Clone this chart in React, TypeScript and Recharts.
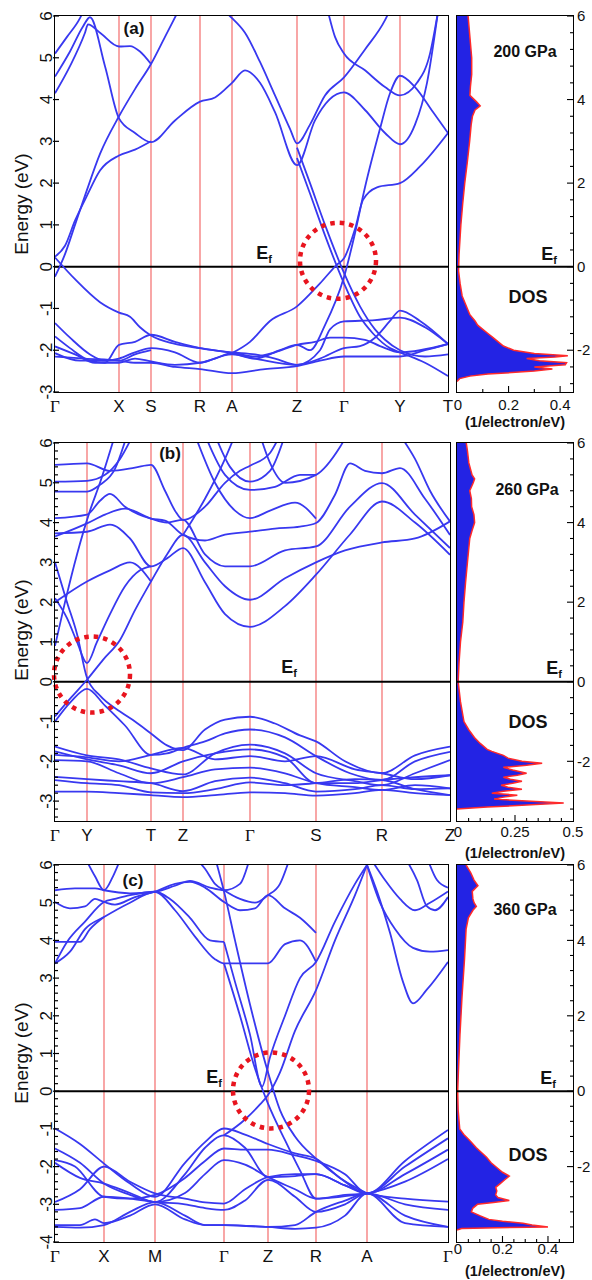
import React from "react";
import {
  Area,
  ComposedChart,
  Line,
  LineChart,
  ReferenceDot,
  ReferenceLine,
  XAxis,
  YAxis,
} from "recharts";

type Pt = [number, number];

const BAND = "#3838f0";
const KLINE = "#f46c6c";
const DOS_FILL = "#2323e4";
const DOS_EDGE = "#ff2a2a";
const SANS = "'Liberation Sans', Arial, sans-serif";
const SERIF = "'Liberation Serif', 'Times New Roman', serif";

// ---------- (a) 200 GPa ----------
const kA = [0, 64, 96, 145, 177, 242, 289, 345, 393];
const labelsA = ["Γ", "X", "S", "R", "A", "Z", "Γ", "Y", "T"];
const ticksA = [-3, -2, -1, 0, 1, 2, 3, 4, 5, 6];
const bandsA: Pt[][] = [
  [[0, 5.1], [12, 5.5], [25, 5.95], [30, 6.2]],
  [[0, 4.55], [15, 5.15], [28, 5.75], [35, 5.97], [50, 4.8], [64, 3.55], [80, 3.2], [96, 2.98], [120, 3.5], [145, 3.95], [160, 4.05], [177, 4.4], [190, 4.7], [205, 4.4], [220, 3.7], [242, 2.43], [260, 3.5], [289, 4.17], [310, 3.75], [330, 3.2], [345, 2.93], [360, 3.4], [372, 4.4], [383, 6.1]],
  [[0, 4.15], [15, 4.8], [30, 5.6], [33, 5.8], [45, 5.6], [64, 5.27], [75, 5.28], [85, 5.15], [96, 4.85]],
  [[0, -0.24], [10, 0.3], [20, 1.0], [30, 1.7], [45, 2.7], [64, 3.6], [80, 4.25], [96, 4.85], [110, 5.5], [125, 6.2]],
  [[0, 0.24], [10, 0.5], [20, 1.1], [32, 1.7], [45, 2.3], [64, 2.66], [80, 2.8], [96, 3.0]],
  [[165, 6.2], [177, 5.95], [190, 5.6], [205, 4.9], [220, 4.1], [235, 3.3], [242, 2.95], [255, 3.4], [270, 4.1], [289, 4.53], [310, 5.2], [330, 5.9], [336, 6.2]],
  [[272, 6.2], [280, 5.5], [289, 5.1], [310, 4.7], [330, 4.3], [345, 4.1], [362, 4.4], [375, 5.1], [383, 6.1]],
  [[0, 0.22], [20, -0.3], [45, -0.85], [64, -1.1], [75, -1.2], [85, -1.45], [96, -1.65], [120, -1.85], [145, -1.95], [177, -2.07], [200, -2.2], [225, -2.0], [242, -1.87], [255, -2.0], [270, -1.4], [289, -0.25], [300, 0.8], [310, 1.9], [325, 3.3], [335, 4.15], [345, 4.57], [360, 4.3], [378, 3.7], [393, 3.2]],
  [[242, 2.85], [255, 2.0], [270, 1.0], [289, -0.15], [305, -0.95], [320, -1.5], [330, -1.75], [345, -2.0], [370, -2.15], [393, -2.1]],
  [[242, 2.6], [255, 1.75], [270, 0.75], [289, -0.4], [305, -1.2], [318, -1.6], [335, -1.95], [345, -2.05], [370, -2.3], [393, -2.62]],
  [[177, -2.07], [195, -1.8], [215, -1.3], [242, -0.95], [265, -0.4], [282, 0.05], [289, 0.2], [300, 0.9], [308, 1.6], [322, 1.9], [345, 2.0], [365, 2.4], [393, 3.2]],
  [[0, -1.35], [15, -1.7], [35, -2.1], [50, -2.25], [64, -2.2], [80, -2.05], [96, -1.95], [120, -2.05], [145, -2.3], [160, -2.2], [177, -2.07], [200, -2.15], [220, -2.05], [242, -1.87], [260, -1.8], [275, -1.7], [289, -1.7], [310, -1.75], [325, -1.9], [345, -2.05], [393, -1.85]],
  [[0, -1.67], [15, -1.95], [35, -2.25], [50, -2.3], [64, -1.87], [80, -1.8], [96, -1.63], [120, -1.8], [145, -1.95], [177, -2.05], [200, -2.1], [220, -2.2], [242, -2.35], [265, -2.0], [275, -1.5], [289, -1.31], [320, -1.28], [345, -1.22], [370, -1.45], [393, -1.85]],
  [[0, -1.91], [20, -2.1], [40, -2.3], [64, -2.3], [80, -2.2], [96, -2.27], [120, -2.35], [145, -2.3], [177, -2.1], [200, -2.2], [242, -2.35], [265, -2.2], [289, -1.95], [305, -1.9], [320, -1.7], [335, -1.3], [345, -1.05], [365, -1.3], [393, -1.85]],
  [[0, -2.15], [30, -2.2], [64, -2.25], [80, -2.3], [96, -2.3], [120, -2.4], [145, -2.45], [177, -2.55], [210, -2.45], [242, -2.38], [265, -2.25], [289, -2.15], [320, -2.15], [345, -2.15], [370, -2.0], [393, -1.85]],
  [[0, -2.07], [25, -2.25], [64, -2.25], [80, -2.1], [96, -2.0]],
];
const dosA: Pt[] = [
  [-2.75, 0], [-2.68, 0.01], [-2.62, 0.05], [-2.57, 0.12], [-2.5, 0.3], [-2.45, 0.37], [-2.4, 0.3], [-2.35, 0.42], [-2.3, 0.425], [-2.25, 0.32], [-2.2, 0.27], [-2.16, 0.38], [-2.13, 0.43], [-2.08, 0.3], [-2.0, 0.22], [-1.9, 0.18], [-1.8, 0.16], [-1.7, 0.14], [-1.6, 0.12], [-1.5, 0.1], [-1.4, 0.08], [-1.3, 0.07], [-1.15, 0.05], [-1.0, 0.04], [-0.7, 0.02], [-0.4, 0.012], [-0.1, 0.006], [0.3, 0.008], [0.7, 0.012], [1.0, 0.015], [1.5, 0.022], [2.0, 0.03], [2.5, 0.04], [3.0, 0.049], [3.4, 0.055], [3.6, 0.06], [3.75, 0.07], [3.85, 0.09], [3.95, 0.075], [4.1, 0.05], [4.3, 0.052], [4.6, 0.057], [5.0, 0.057], [5.5, 0.05], [6, 0.043],
];

// ---------- (b) 260 GPa ----------
const kB = [0, 32, 96, 128, 195, 261, 327, 395];
const labelsB = ["Γ", "Y", "T", "Z", "Γ", "S", "R", "Z"];
const ticksB = [-3, -2, -1, 0, 1, 2, 3, 4, 5, 6];
const bandsB: Pt[][] = [
  [[0, 5.45], [32, 5.49], [55, 5.3], [80, 5.38], [96, 5.45], [110, 4.8], [120, 4.3], [128, 4.07], [150, 4.4], [170, 5.0], [185, 5.3], [195, 5.43], [215, 5.75], [225, 6.2]],
  [[0, 5.03], [32, 5.05], [50, 5.2], [65, 5.6], [78, 6.2]],
  [[0, 4.78], [32, 4.78], [45, 4.95], [60, 5.35], [72, 6.2]],
  [[0, 4.11], [32, 4.2], [45, 4.55], [55, 4.72], [70, 4.4], [96, 4.1], [110, 4.05], [128, 3.69], [150, 3.55], [170, 3.7], [195, 3.77], [220, 3.85], [245, 3.9], [261, 3.99], [280, 4.7], [295, 5.49], [310, 5.3], [327, 5.24], [345, 5.37], [370, 4.6], [395, 3.69]],
  [[0, 3.73], [32, 3.77], [55, 3.95], [75, 3.6], [96, 2.9], [112, 3.1], [128, 3.36], [150, 2.5], [170, 1.7], [195, 1.38], [230, 1.9], [261, 2.69], [295, 3.7], [327, 4.53], [360, 4.0], [395, 3.19]],
  [[0, 3.65], [32, 3.98], [50, 4.2], [70, 4.35], [96, 4.1], [112, 4.0], [128, 4.07], [150, 3.2], [170, 2.9], [195, 2.9], [230, 3.3], [261, 3.4], [295, 4.4], [327, 4.99], [360, 4.2], [395, 3.36]],
  [[0, -0.87], [16, -0.4], [32, 0.05], [48, 0.55], [65, 1.05], [80, 1.8], [96, 2.52], [112, 3.2], [128, 3.69], [150, 3.0], [170, 2.4], [195, 2.06], [230, 2.6], [261, 3.0], [290, 3.3], [327, 3.5], [360, 3.6], [395, 4.03]],
  [[0, 2.1], [12, 1.6], [22, 1.0], [32, 0.47], [42, 1.0], [55, 1.7], [70, 2.4], [85, 2.8], [96, 2.9]],
  [[0, 2.0], [32, 2.52], [55, 2.8], [75, 3.0], [96, 2.52]],
  [[0, 0.9], [10, 2.0], [22, 3.2], [35, 4.3], [45, 5.0], [60, 6.2]],
  [[0, 3.0], [12, 2.0], [22, 1.2], [32, 0.1], [45, -0.35], [65, -0.75], [80, -1.0], [96, -1.3], [112, -1.6], [128, -1.72], [150, -1.2], [170, -0.95], [195, -0.88], [220, -1.05], [245, -1.35], [261, -1.5], [290, -2.0], [327, -2.3], [360, -1.85], [395, -1.63]],
  [[0, -1.0], [16, -0.5], [32, -0.18], [50, -0.6], [70, -1.1], [96, -1.84], [112, -1.8], [128, -1.66], [150, -1.5], [170, -1.3], [195, -1.2], [230, -1.4], [261, -1.87], [295, -2.3], [327, -2.47], [360, -2.0], [395, -1.76]],
  [[0, -1.63], [32, -1.85], [64, -1.95], [96, -2.18], [128, -2.33], [160, -1.8], [195, -1.58], [230, -1.8], [261, -2.3], [300, -2.5], [327, -2.6], [360, -2.3], [395, -1.97]],
  [[0, -1.75], [32, -1.95], [64, -2.1], [96, -2.3], [128, -2.0], [160, -1.8], [195, -1.7], [230, -1.9], [261, -2.55], [300, -2.55], [327, -2.47], [360, -2.4], [395, -2.35]],
  [[0, -1.84], [32, -1.9], [64, -2.0], [96, -1.84], [128, -1.66], [160, -1.95], [195, -1.87], [230, -2.0], [261, -1.87], [300, -2.2], [327, -2.3], [360, -2.45], [395, -2.35]],
  [[0, -1.97], [32, -2.0], [64, -2.3], [96, -2.55], [128, -2.4], [160, -2.2], [195, -2.16], [230, -2.3], [261, -2.55], [300, -2.65], [327, -2.72], [360, -2.6], [395, -2.68]],
  [[0, -2.39], [32, -2.45], [64, -2.5], [96, -2.55], [128, -2.75], [160, -2.5], [195, -2.41], [230, -2.55], [261, -2.76], [300, -2.7], [327, -2.6], [360, -2.7], [395, -2.68]],
  [[0, -2.47], [32, -2.55], [64, -2.6], [96, -2.78], [128, -2.8], [160, -2.7], [195, -2.53], [230, -2.6], [261, -2.55], [300, -2.45], [327, -2.47], [360, -2.7], [395, -2.85]],
  [[0, -2.76], [32, -2.76], [64, -2.8], [96, -2.85], [128, -2.9], [160, -2.85], [195, -2.78], [230, -2.8], [261, -2.86], [300, -2.8], [327, -2.72], [360, -2.8], [395, -2.85]],
  [[345, 6.2], [360, 5.6], [375, 4.8], [395, 4.03]],
  [[205, 6.2], [215, 5.5], [230, 5.0], [261, 5.2], [285, 5.9], [292, 6.2]],
  [[160, 6.2], [175, 5.4], [195, 5.03], [215, 5.3], [230, 6.2]],
  [[150, 6.2], [170, 5.2], [195, 4.82], [220, 4.9], [245, 5.2], [261, 5.2]],
  [[140, 6.2], [160, 5.0], [180, 4.3], [195, 4.11], [215, 4.3], [240, 4.5], [261, 4.1]],
  [[128, 3.69], [150, 4.6], [170, 5.6], [180, 6.2]],
];
const dosB: Pt[] = [
  [-3.2, 0], [-3.15, 0.13], [-3.1, 0.3], [-3.05, 0.46], [-3.0, 0.3], [-2.95, 0.16], [-2.9, 0.2], [-2.85, 0.26], [-2.8, 0.15], [-2.75, 0.2], [-2.7, 0.28], [-2.65, 0.22], [-2.6, 0.19], [-2.55, 0.24], [-2.5, 0.28], [-2.45, 0.23], [-2.4, 0.2], [-2.35, 0.26], [-2.3, 0.3], [-2.22, 0.24], [-2.15, 0.2], [-2.1, 0.3], [-2.05, 0.367], [-2.0, 0.28], [-1.92, 0.22], [-1.85, 0.2], [-1.75, 0.15], [-1.7, 0.13], [-1.55, 0.1], [-1.4, 0.075], [-1.2, 0.05], [-1.0, 0.03], [-0.5, 0.015], [0, 0.005], [0.5, 0.009], [1.0, 0.015], [1.5, 0.025], [2.0, 0.03], [2.5, 0.037], [3.0, 0.045], [3.3, 0.05], [3.6, 0.055], [3.8, 0.065], [4.0, 0.076], [4.2, 0.073], [4.4, 0.063], [4.6, 0.062], [4.8, 0.055], [5.0, 0.07], [5.1, 0.076], [5.2, 0.065], [5.5, 0.051], [5.8, 0.045], [6, 0.04],
];

// ---------- (c) 360 GPa ----------
const kC = [0, 49, 100, 169, 213, 261, 312, 393];
const labelsC = ["Γ", "X", "M", "Γ", "Z", "R", "A", "Γ"];
const ticksC = [-4, -3, -2, -1, 0, 1, 2, 3, 4, 5, 6];
const bandsC: Pt[][] = [
  [[0, 5.33], [20, 5.38], [40, 5.38], [49, 5.33], [75, 5.25], [100, 5.29], [120, 5.45], [135, 5.58], [155, 5.4], [169, 5.33], [185, 5.5], [195, 6.2]],
  [[0, 5.02], [15, 4.85], [30, 4.9], [40, 5.1], [49, 5.02], [60, 4.95], [80, 5.15], [100, 5.29], [120, 5.5], [135, 5.55], [150, 5.4], [169, 5.02], [185, 4.8], [200, 4.85], [213, 5.2], [230, 4.85], [245, 4.6], [261, 4.2]],
  [[0, 3.39], [12, 3.96], [30, 4.5], [49, 5.02], [60, 5.1], [75, 5.2], [100, 5.29], [115, 5.1], [135, 4.6], [155, 4.0], [169, 3.96]],
  [[0, 3.39], [15, 3.7], [30, 4.3], [49, 4.62], [75, 5.0], [100, 5.29], [120, 4.8], [140, 4.1], [160, 3.5], [169, 3.39], [190, 3.39], [213, 3.39], [230, 3.9], [245, 4.0], [261, 3.43]],
  [[0, 3.96], [25, 3.96], [35, 4.3], [49, 4.62]],
  [[30, 6.2], [40, 5.7], [49, 5.33], [58, 5.7], [66, 6.2]],
  [[140, 6.2], [150, 5.9], [160, 5.5], [169, 5.33], [185, 5.1], [200, 5.0], [213, 5.2], [225, 5.5], [235, 6.2]],
  [[169, 3.96], [180, 2.9], [195, 1.5], [207, 0.12], [215, 0.9], [230, 2.0], [245, 3.0], [261, 3.43], [280, 4.5], [300, 5.5], [312, 6.0]],
  [[160, 6.2], [169, 5.3], [180, 4.0], [195, 2.3], [213, 0.5], [225, -0.5], [240, -1.2], [261, -1.79], [285, -2.3], [312, -2.71]],
  [[169, 3.39], [185, 2.0], [200, 0.6], [213, -0.33], [230, -1.3], [245, -2.1], [261, -2.85], [285, -2.8], [312, -2.71]],
  [[169, -1.17], [190, -0.75], [205, -0.35], [213, -0.1], [225, 0.5], [240, 1.6], [261, 2.68], [280, 4.0], [300, 5.2], [312, 6.0]],
  [[312, 6.0], [322, 5.3], [335, 4.2], [348, 2.9], [358, 2.33], [372, 2.7], [393, 3.43]],
  [[312, 6.0], [325, 5.0], [340, 4.3], [358, 3.8], [375, 3.7], [393, 3.74]],
  [[315, 6.2], [330, 5.6], [345, 5.1], [360, 4.8], [375, 5.0], [393, 5.3]],
  [[350, 6.2], [362, 5.6], [372, 4.9], [380, 4.8], [393, 5.15]],
  [[372, 6.2], [382, 5.6], [393, 5.4]],
  [[0, -0.99], [25, -1.4], [49, -1.92], [75, -2.45], [100, -2.8], [130, -1.9], [150, -1.35], [169, -0.99], [190, -1.15], [213, -1.4], [240, -1.65], [261, -1.79], [285, -2.3], [312, -2.71], [350, -1.85], [393, -1.03]],
  [[0, -1.52], [25, -1.9], [49, -2.45], [75, -2.75], [100, -2.94], [130, -2.2], [150, -1.5], [169, -1.17], [190, -1.5], [213, -2.28], [240, -2.25], [261, -2.2], [290, -2.5], [312, -2.71], [350, -2.0], [393, -1.25]],
  [[0, -1.83], [20, -2.0], [49, -2.8], [75, -2.85], [100, -2.75], [130, -2.3], [150, -1.85], [169, -1.52], [190, -1.55], [213, -1.55], [240, -1.7], [261, -1.85], [290, -2.2], [312, -2.71], [350, -2.2], [393, -1.55]],
  [[0, -1.9], [25, -2.3], [49, -2.45], [75, -2.7], [100, -2.94], [130, -2.7], [150, -2.2], [169, -1.83], [190, -1.95], [213, -2.28], [240, -2.6], [261, -2.85], [290, -2.75], [312, -2.71], [350, -2.4], [393, -1.8]],
  [[0, -2.94], [25, -2.6], [49, -2.0], [75, -2.4], [100, -2.71], [130, -2.85], [150, -2.95], [169, -2.98], [190, -2.6], [213, -2.28], [240, -2.2], [261, -2.2], [290, -2.5], [312, -2.71], [350, -2.85], [393, -2.93]],
  [[0, -3.15], [25, -3.1], [49, -2.8], [75, -2.85], [100, -2.94], [130, -3.0], [150, -3.1], [169, -3.15], [190, -2.9], [213, -2.35], [240, -2.8], [261, -3.2], [290, -3.0], [312, -2.71], [350, -3.0], [393, -3.15]],
  [[0, -3.55], [25, -3.55], [40, -3.4], [49, -3.5], [75, -3.3], [100, -3.0], [130, -3.4], [150, -3.55], [169, -3.55], [213, -3.6], [240, -3.55], [261, -3.2], [290, -2.9], [312, -2.71], [350, -3.3], [393, -3.6]],
  [[0, -3.6], [25, -3.62], [49, -3.55], [75, -3.2], [100, -2.94], [130, -3.3], [150, -3.55], [169, -3.55], [213, -3.6], [240, -3.65], [261, -3.62], [290, -3.3], [312, -2.71], [350, -3.5], [393, -3.6]],
];
const dosC: Pt[] = [
  [-3.68, 0], [-3.64, 0.02], [-3.6, 0.4], [-3.55, 0.33], [-3.5, 0.29], [-3.45, 0.2], [-3.4, 0.14], [-3.3, 0.1], [-3.2, 0.063], [-3.1, 0.07], [-3.0, 0.09], [-2.95, 0.16], [-2.9, 0.23], [-2.82, 0.18], [-2.75, 0.17], [-2.65, 0.175], [-2.55, 0.17], [-2.45, 0.19], [-2.35, 0.21], [-2.25, 0.23], [-2.15, 0.2], [-2.05, 0.18], [-1.9, 0.15], [-1.75, 0.13], [-1.5, 0.085], [-1.3, 0.055], [-1.15, 0.03], [-1.0, 0.012], [-0.5, 0.005], [0, 0.003], [0.5, 0.006], [1.5, 0.013], [2.5, 0.022], [3.5, 0.033], [4.3, 0.04], [4.6, 0.05], [4.8, 0.07], [4.9, 0.085], [5.0, 0.075], [5.1, 0.07], [5.3, 0.067], [5.45, 0.092], [5.6, 0.075], [5.8, 0.06], [6, 0.04],
];

const dosTicksA = [0, 0.1, 0.2, 0.3, 0.4];
const dosLabelsA = [0, 0.2, 0.4];
const dosTicksB = [0, 0.05, 0.1, 0.15, 0.2, 0.25, 0.3, 0.35, 0.4, 0.45];
const dosLabelsB = [0, 0.25, 0.5];
const dosTicksC = [0, 0.05, 0.1, 0.15, 0.2, 0.25, 0.3, 0.35, 0.4, 0.45];
const dosLabelsC = [0, 0.2, 0.4];

const steps = (lo: number, hi: number, d: number) => {
  const out: number[] = [];
  for (let v = hi; v >= lo - 1e-9; v -= d) out.push(Math.round(v * 100) / 100);
  return out;
};

const PLOT_LEFT = 55;

function BandPanel({ top, plotH, kPts, kLabels, bands, yDomain, yTicks, minor, circle }: any) {
  const width = kPts[kPts.length - 1] + PLOT_LEFT + 12;
  const height = 16 + plotH + 38;
  const pb = 16 + plotH;
  const allTicks = minor ? steps(yDomain[0], yDomain[1], 0.2) : yTicks;
  return (
    <div style={{ position: "absolute", left: 0, top, width, height }}>
      <LineChart width={width} height={height} margin={{ top: 16, right: 12, bottom: 0, left: 0 }}>
        <XAxis
          type="number"
          dataKey="k"
          domain={[0, kPts[kPts.length - 1]]}
          ticks={kPts}
          interval={0}
          allowDataOverflow
          height={38}
          axisLine={false}
          tickLine={false}
          tick={(p: any) => {
            const lab = kLabels[kPts.indexOf(p.payload.value)] ?? "";
            return (
              <text x={p.x} y={pb + 8} dy="0.71em" textAnchor="middle" fontSize={17} fontFamily={lab === "Γ" ? SERIF : SANS} fill="#111">
                {lab}
              </text>
            );
          }}
        />
        <YAxis
          type="number"
          domain={yDomain}
          ticks={allTicks}
          interval={0}
          allowDataOverflow
          width={PLOT_LEFT}
          axisLine={false}
          tickLine={false}
          tick={(p: any) => {
            const v = p.payload.value;
            const major = Number.isInteger(Math.round(v * 1000) / 1000) && yTicks.includes(Math.round(v));
            return (
              <g>
                <line x1={PLOT_LEFT - (major ? 2 : 0)} x2={PLOT_LEFT + (major ? 4 : 3)} y1={p.y} y2={p.y} stroke="#000" strokeWidth={1.2} />
                {major && (
                  <text x={52} y={p.y} transform={`rotate(-90 52 ${p.y})`} textAnchor="middle" fontSize={17} fontFamily={SANS} fill="#111">
                    {Math.round(v)}
                  </text>
                )}
              </g>
            );
          }}
        />
        {kPts.slice(1, -1).map((k: number) => (
          <ReferenceLine key={k} x={k} stroke={KLINE} strokeWidth={1.2} />
        ))}
        <ReferenceLine y={0} stroke="#000" strokeWidth={2} />
        {bands.map((b: Pt[], i: number) => (
          <Line
            key={i}
            data={b.map(([k, e]) => ({ k, e }))}
            dataKey="e"
            type="monotone"
            stroke={BAND}
            strokeWidth={1.8}
            dot={false}
            isAnimationActive={false}
          />
        ))}
        <ReferenceDot x={circle[0]} y={circle[1]} r={38} fill="none" stroke="#e8141e" strokeWidth={4.5} strokeDasharray="4.5 5" />
      </LineChart>
      <div
        style={{
          position: "absolute",
          left: PLOT_LEFT - 1,
          top: 15,
          width: kPts[kPts.length - 1] + 2,
          height: plotH + 2,
          border: "1.5px solid #000",
          boxSizing: "border-box",
          pointerEvents: "none",
        }}
      />
    </div>
  );
}

function DosPanel({ top, plotH, data, xMax, xTicks, xLabels, yDomain, labelGap }: any) {
  const PAD = 20;
  const W = 155;
  const axisW = 19;
  const height = 16 + plotH + 38;
  const pb = 16 + plotH;
  const x0 = W - axisW;
  const rows = data.map(([e, d]: Pt) => ({ e, d }));
  const yTicks = steps(yDomain[0], yDomain[1], 0.4).filter((v) => v > yDomain[0] && v < yDomain[1] + 0.01);
  return (
    <div style={{ position: "absolute", left: 457 - PAD, top, width: W, height }}>
      <ComposedChart layout="vertical" width={W} height={height} data={rows} margin={{ top: 16, right: 0, bottom: 0, left: PAD }}>
        <XAxis
          type="number"
          domain={[0, xMax]}
          ticks={[...xTicks, ...xLabels.filter((v: number) => !xTicks.includes(v))]}
          interval={0}
          allowDataOverflow
          height={38}
          axisLine={false}
          tickLine={false}
          tick={(p: any) => {
            const v = p.payload.value;
            const lab = xLabels.includes(v);
            return (
              <g>
                {v > 0 && v < xMax && <line x1={p.x} x2={p.x} y1={pb} y2={pb - (lab ? 6 : 3)} stroke="#000" strokeWidth={1.1} />}
                {lab && (
                  <text x={p.x + (v === 0 ? 1 : 0)} y={pb + labelGap} dy="0.71em" textAnchor="middle" fontSize={15} fontFamily={SANS} fill="#111">
                    {v}
                  </text>
                )}
              </g>
            );
          }}
        />
        <YAxis
          type="number"
          dataKey="e"
          orientation="right"
          reversed
          domain={yDomain}
          ticks={yTicks}
          interval={0}
          allowDataOverflow
          width={axisW}
          axisLine={false}
          tickLine={false}
          tick={(p: any) => {
            const v = p.payload.value;
            const major = Math.abs(v / 2 - Math.round(v / 2)) < 1e-6;
            return (
              <g>
                <line x1={x0 - (major ? 6 : 3)} x2={x0} y1={p.y} y2={p.y} stroke="#000" strokeWidth={1.1} />
                {major && (
                  <text x={x0 + 4} y={p.y} dy="0.35em" textAnchor="start" fontSize={15} fontFamily={SANS} fill="#111">
                    {Math.round(v)}
                  </text>
                )}
              </g>
            );
          }}
        />
        <Area dataKey="d" type="linear" fill={DOS_FILL} fillOpacity={1} stroke={DOS_EDGE} strokeWidth={1.5} isAnimationActive={false} />
        <ReferenceLine y={0} stroke="#000" strokeWidth={2} />
      </ComposedChart>
      <div
        style={{
          position: "absolute",
          left: PAD - 1,
          top: 15,
          width: x0 - PAD + 2,
          height: plotH + 2,
          border: "1.5px solid #000",
          boxSizing: "border-box",
          pointerEvents: "none",
        }}
      />
    </div>
  );
}

function Txt({ x, y, size, bold, rotate, children }: any) {
  return (
    <div
      style={{
        position: "absolute",
        left: x,
        top: y,
        transform: `translate(-50%, -50%)${rotate ? " rotate(-90deg)" : ""}`,
        fontFamily: SANS,
        fontSize: size,
        fontWeight: bold ? 700 : 400,
        whiteSpace: "nowrap",
        lineHeight: 1,
        color: "#111",
      }}
    >
      {children}
    </div>
  );
}

const Ef = () => (
  <span>
    E<sub style={{ fontSize: 11, verticalAlign: "-4px" }}>f</sub>
  </span>
);

export default function App() {
  return (
    <div style={{ position: "absolute", left: 0, top: 0, width: 592, height: 1280, background: "#fff", overflow: "hidden" }}>
      <BandPanel top={0} plotH={376} kPts={kA} kLabels={labelsA} bands={bandsA} yDomain={[-3, 6]} yTicks={ticksA} minor={false} circle={[283, 0.14]} />
      <DosPanel top={0} plotH={376} data={dosA} xMax={0.45} xTicks={dosTicksA} xLabels={dosLabelsA} yDomain={[-3, 6]} labelGap={7} />

      <BandPanel top={427} plotH={378} kPts={kB} kLabels={labelsB} bands={bandsB} yDomain={[-3.5, 6]} yTicks={ticksB} minor circle={[37, 0.18]} />
      <DosPanel top={427} plotH={378} data={dosB} xMax={0.5} xTicks={dosTicksB} xLabels={dosLabelsB} yDomain={[-3.5, 6]} labelGap={5} />

      <BandPanel top={849} plotH={377} kPts={kC} kLabels={labelsC} bands={bandsC} yDomain={[-4, 6]} yTicks={ticksC} minor circle={[216, 0.02]} />
      <DosPanel top={849} plotH={377} data={dosC} xMax={0.51} xTicks={dosTicksC} xLabels={dosLabelsC} yDomain={[-4, 6]} labelGap={1} />

      <Txt x={134} y={28} size={17} bold>(a)</Txt>
      <Txt x={170} y={453} size={17} bold>(b)</Txt>
      <Txt x={133} y={880} size={17} bold>(c)</Txt>

      <Txt x={21} y={204} size={19} rotate>Energy (eV)</Txt>
      <Txt x={21} y={630} size={19} rotate>Energy (eV)</Txt>
      <Txt x={21} y={1053} size={19} rotate>Energy (eV)</Txt>

      <Txt x={264} y={254} size={18} bold><Ef /></Txt>
      <Txt x={289} y={668} size={18} bold><Ef /></Txt>
      <Txt x={214} y={1078} size={18} bold><Ef /></Txt>
      <Txt x={549} y={255} size={18} bold><Ef /></Txt>
      <Txt x={554} y={669} size={18} bold><Ef /></Txt>
      <Txt x={548} y={1079} size={18} bold><Ef /></Txt>

      <Txt x={525} y={52} size={16} bold>200 GPa</Txt>
      <Txt x={527} y={490} size={16} bold>260 GPa</Txt>
      <Txt x={525} y={910} size={16} bold>360 GPa</Txt>

      <Txt x={528} y={297} size={18} bold>DOS</Txt>
      <Txt x={528} y={722} size={18} bold>DOS</Txt>
      <Txt x={528} y={1155} size={18} bold>DOS</Txt>

      <Txt x={515} y={422} size={14.5} bold>(1/electron/eV)</Txt>
      <Txt x={515} y={853} size={14.5} bold>(1/electron/eV)</Txt>
      <Txt x={515} y={1271} size={14.5} bold>(1/electron/eV)</Txt>
    </div>
  );
}
